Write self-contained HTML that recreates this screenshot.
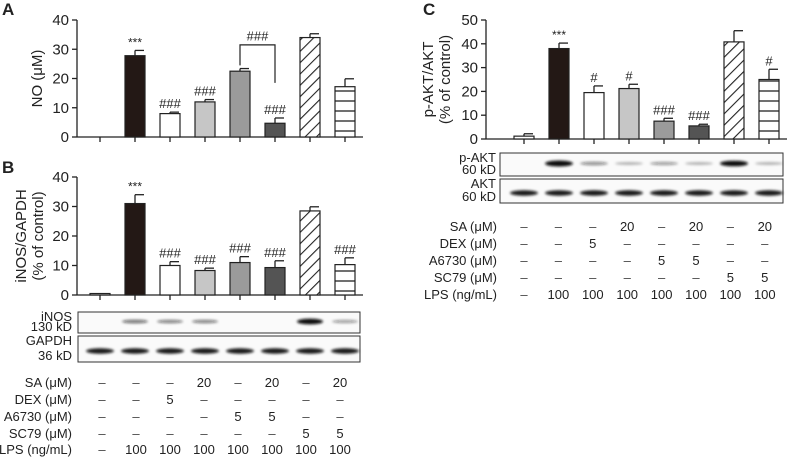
<!DOCTYPE html>
<html><head><meta charset="utf-8"><style>
body{margin:0;background:#fff}
svg{display:block;font-family:"Liberation Sans",sans-serif}
</style></head><body>
<svg id="fig" width="788" height="457" viewBox="0 0 788 457" xmlns="http://www.w3.org/2000/svg">
<defs>
<pattern id="diag" patternUnits="userSpaceOnUse" width="8" height="8" patternTransform="rotate(45)"><rect width="8" height="8" fill="#fff"/><line x1="0" y1="0" x2="0" y2="8" stroke="#222" stroke-width="2.2"/></pattern>
<pattern id="horz" patternUnits="userSpaceOnUse" width="8" height="10"><rect width="8" height="10" fill="#fff"/><line x1="0" y1="1" x2="8" y2="1" stroke="#222" stroke-width="1.3"/></pattern>
<filter id="blur" x="-20%" y="-100%" width="140%" height="300%"><feGaussianBlur stdDeviation="1.2"/></filter>
</defs>
<g id="root"></g>
</svg>
<script>
const groups=["ctrl","LPS","LPS+DEX","LPS+SA","LPS+A6730","LPS+SA+A6730","LPS+SC79","LPS+SA+SC79"];
const noValues=[0,27.8,8,12,22.5,4.7,34,17.2];
const noErrors=[0,1.8,0.5,0.8,0.9,1.8,1.3,2.7];
const noMarks=["","***","###","###","","###","",""];
const inosValues=[0.5,31,10,8.3,11,9.3,28.5,10.3];
const inosErrors=[0,3,1.3,0.8,2,2.3,1.4,2.3];
const inosMarks=["","***","###","###","###","###","","###"];
const aktValues=[1.2,38,19.5,21.2,7.5,5.5,40.8,25];
const aktErrors=[1,2.3,2.8,1.8,1.2,0.7,4.7,4.3];
const aktMarks=["","***","#","#","###","###","","#"];
const ticksA=[0,10,20,30,40];
const ticksC=[0,10,20,30,40,50];
const rowLabels=["SA (\u03bcM)","DEX (\u03bcM)","A6730 (\u03bcM)","SC79 (\u03bcM)","LPS (ng/mL)"];
const tableRows=[["–","–","–","20","–","20","–","20"],["–","–","5","–","–","–","–","–"],["–","–","–","–","5","5","–","–"],["–","–","–","–","–","–","5","5"],["–","100","100","100","100","100","100","100"]];
const fills=["#fff","#231815","#fff","#c6c6c6","#9b9b9b","#545454","url(#diag)","url(#horz)"];
const inosBand=[0,0.45,0.4,0.4,0,0,0.95,0.3];
const gapdhBand=[0.85,0.85,0.85,0.85,0.85,0.85,0.85,0.85];
const pAktBand=[0,1,0.35,0.2,0.3,0.2,0.9,0.2];
const aktBand=[0.85,0.85,0.85,0.85,0.85,0.85,0.85,0.85];

const NS="http://www.w3.org/2000/svg";
const root=document.getElementById('root');
function mk(tag,attrs,parent,text){const e=document.createElementNS(NS,tag);for(const k in attrs)e.setAttribute(k,attrs[k]);if(text!==undefined)e.textContent=text;(parent||root).appendChild(e);return e;}

function chart(o){
  const g=mk('g',{});
  
  
  const y=v=>o.y0-(v/o.max)*(o.y0-o.yTop);
  const x=i=>o.x0+i*35;
  mk('line',{x1:o.ax,y1:o.yTop,x2:o.ax,y2:o.y0,stroke:'#222','stroke-width':1.3},g);
  mk('line',{x1:o.ax,y1:o.y0,x2:o.axEnd,y2:o.y0,stroke:'#222','stroke-width':1.3},g);
  o.ticks.forEach(t=>{
    const l=mk('line',{x1:o.ax-5,y1:y(t),x2:o.ax,y2:y(t),stroke:'#222','stroke-width':1.3},g);
    
    const tx=mk('text',{x:o.ax-8,y:y(t)+5,'text-anchor':'end','font-size':15,fill:'#222'},g,String(t));
    
    
  });
  o.values.forEach((v,i)=>{
    const cx=x(i);
    mk('line',{x1:cx,y1:o.y0,x2:cx,y2:o.y0+5,stroke:'#222','stroke-width':1.3},g);
    const top=y(v+o.errors[i]);
    if(o.errors[i]>0){
      const el=mk('line',{x1:cx,y1:y(v),x2:cx,y2:top,stroke:'#222','stroke-width':1.3},g);
      
      mk('line',{x1:cx,y1:top,x2:cx+9,y2:top,stroke:'#222','stroke-width':1.3},g);
    }
    const b=mk('rect',{x:cx-10,y:y(v),width:20,height:o.y0-y(v),fill:fills[i],stroke:'#222','stroke-width':1.2},g);
    
    
    if(o.marks[i]){
      const m=mk('text',{x:cx,y:top-4,'text-anchor':'middle','font-size':o.marks[i]==='***'?12:13,fill:'#222'},g,o.marks[i]);
      
      
    }
  });
  const t=mk('text',{transform:`translate(${o.titleX},${(o.y0+o.yTop)/2}) rotate(-90)`,'text-anchor':'middle','font-size':15,fill:'#222'},g);
  
  
  o.title.forEach((s,k)=>mk('tspan',{x:0,dy:k?17:0},t,s));
  const L=mk('text',{x:o.letterX,y:o.letterY,'font-size':17,'font-weight':'bold',fill:'#222'},g,o.letter);
  
  
  return {x,y,g};
}

const A=chart({name:'chart-a-no',ax:77,axEnd:363,x0:100,y0:137,yTop:20,max:40,values:noValues,errors:noErrors,marks:noMarks,ticks:ticksA,title:['NO (\u03bcM)'],titleX:42,letter:'A',letterX:2,letterY:15});
const br=mk('path',{d:`M${A.x(4)} ${A.y(24.5)} V${A.y(31.5)} H${A.x(5)} V${A.y(18.5)}`,fill:'none',stroke:'#222','stroke-width':1.2},A.g);

mk('text',{x:(A.x(4)+A.x(5))/2,y:A.y(33),'text-anchor':'middle','font-size':13,fill:'#222'},A.g,'###');

const B=chart({name:'chart-b-inos',ax:77,axEnd:363,x0:100,y0:295,yTop:177,max:40,values:inosValues,errors:inosErrors,marks:inosMarks,ticks:ticksA,title:['iNOS/GAPDH','(% of control)'],titleX:26,letter:'B',letterX:2,letterY:173});
const C=chart({name:'chart-c-pakt',ax:486,axEnd:787,x0:524,y0:139,yTop:20,max:50,values:aktValues,errors:aktErrors,marks:aktMarks,ticks:ticksC,title:['p-AKT/AKT','(% of control)'],titleX:433,letter:'C',letterX:423,letterY:15});

function blot(name,x1,x2,yT,yB,bands,xs,labels,labelX,w){
  const g=mk('g',{});
  
  
  mk('rect',{x:x1,y:yT,width:x2-x1,height:yB-yT,fill:'#fafafa',stroke:'#333','stroke-width':1},g);
  const cy=(yT+yB)/2+(labels[0]==='GAPDH'||labels[0]==='AKT'?2:-1);
  bands.forEach((v,i)=>{
    if(v<=0)return;
    const e=mk('ellipse',{cx:xs(i),cy:cy,rx:w/2,ry:1+v*2,fill:'#111','fill-opacity':Math.min(1,v+0.1),filter:'url(#blur)'},g);
    
  });
  mk('text',{x:labelX,y:yT+9,'text-anchor':'end','font-size':13,fill:'#222'},g,labels[0]);
  mk('text',{x:labelX,y:yB-2,'text-anchor':'end','font-size':13,fill:'#222'},g,labels[1]);
}
blot('blot-inos',78,360,312,333,inosBand,B.x,['iNOS','130 kD'],72,26);
blot('blot-gapdh',78,360,336,362,gapdhBand,B.x,['GAPDH','36 kD'],72,28);
blot('blot-pakt',500,783,153,176,pAktBand,C.x,['p-AKT','60 kD'],496,28);
blot('blot-akt',500,783,179,203,aktBand,C.x,['AKT','60 kD'],496,28);

function table(name,labelX,rowY,colX){
  const g=mk('g',{});
  
  
  rowLabels.forEach((r,ri)=>{
    const t=mk('text',{x:labelX,y:rowY[ri]+5,'text-anchor':'end','font-size':13,fill:'#222'},g,r);
    
    tableRows[ri].forEach((c,ci)=>{
      const tt=mk('text',{x:colX(ci),y:rowY[ri]+5,'text-anchor':'middle','font-size':13,fill:c==='–'?'#444':'#222'},g,c);
      
    });
  });
}
table('treatment-table-b',72,[382,399,416,433,449],i=>102+i*34);
table('treatment-table-c',497,[226,243,260,277,294],i=>524+i*34.4);
</script>
</body></html>
